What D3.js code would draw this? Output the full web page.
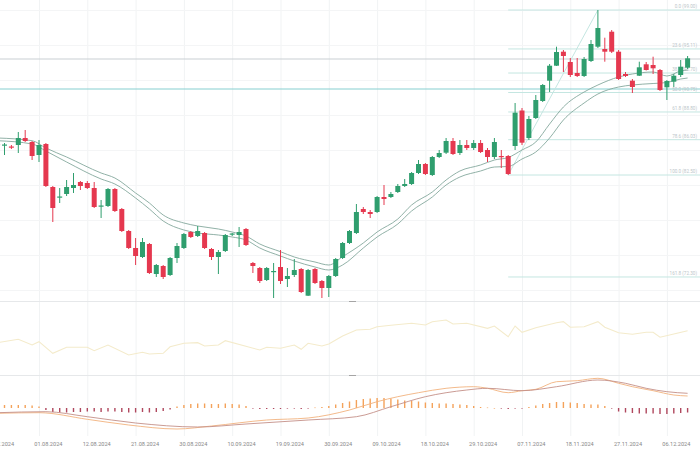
<!DOCTYPE html>
<html><head><meta charset="utf-8">
<script src="https://cdn.jsdelivr.net/npm/d3@7"></script>
<style>html,body{margin:0;padding:0;background:#fff;overflow:hidden}</style>
</head><body>
<svg id="c" width="700" height="450"></svg>
<script>
// ---------------- DATA ----------------
const startDate = "2024-07-23";
const candleCount = 101;
const opens = [85.6,85.45,85.35,85.5,86.2,85.8,84.5,85.6,81.3,80.25,
80.6,81.2,81.8,81.7,81.2,79.35,79.4,81.1,79.1,76.9,
75.2,74.3,75.6,72.6,73.4,72.5,74.2,75.2,76.8,76.4,
76.7,75.1,74.3,74.9,76.55,76.5,77.1,73.7,73.2,72.0,
72.85,73.3,72.1,72.5,73.1,70.43,73.1,71.9,71.2,72.4,
74.2,75.7,76.7,79.1,78.8,78.8,80.3,80.3,80.8,81.4,
81.6,82.7,83.6,82.5,84.3,84.73,85.9,84.7,85.5,85.2,
85.7,85.0,84.3,84.4,84.4,85.4,88.95,86.2,88.2,89.9,
91.93,93.43,94.83,93.8,92.7,92.4,93.9,95.33,95.1,96.83,
94.83,92.6,91.93,92.43,93.57,93.5,93.0,91.27,91.83,92.5,93.23];
const highs = [85.8,85.7,85.5,86.8,87.0,85.9,86.0,85.7,81.4,81.2,
82.0,82.7,81.9,81.9,81.8,80.0,81.2,81.2,79.2,77.0,
76.2,76.2,75.7,73.6,73.5,74.3,75.7,76.7,76.9,77.4,
76.8,75.2,75.0,76.6,76.7,77.3,77.2,73.8,73.3,73.3,
73.7,75.0,73.2,74.1,73.2,73.1,73.2,72.0,72.5,74.2,
75.8,77.0,79.6,79.3,79.0,80.4,81.5,80.8,81.6,82.1,
82.8,84.0,83.7,84.4,85.0,86.2,86.2,86.0,86.0,86.0,
86.0,85.2,86.2,85.0,84.5,89.7,89.2,88.4,90.5,91.6,
93.6,95.33,95.0,94.2,94.2,94.3,96.0,99.0,96.23,97.0,
95.0,92.8,92.1,93.83,93.8,94.33,93.1,92.0,92.6,94.0,94.4];
const lows = [85.3,84.5,85.1,84.7,85.8,84.0,83.8,81.3,77.8,79.7,
80.4,80.7,81.0,81.1,79.2,78.2,79.3,78.8,76.8,75.1,
73.5,74.2,72.6,72.3,72.1,72.4,73.7,75.1,76.2,76.3,
75.1,74.0,72.6,74.8,76.4,75.3,75.4,72.7,71.7,71.9,
70.2,71.6,71.3,72.3,70.7,70.4,71.6,70.2,70.3,72.3,
74.1,75.6,76.6,78.6,78.2,78.7,79.5,80.2,80.7,81.3,
81.5,82.6,82.5,82.4,84.2,84.6,84.5,84.5,85.0,85.0,
84.7,83.8,84.1,83.2,82.5,85.0,85.5,86.0,88.1,89.8,
90.8,93.4,92.8,92.3,92.3,92.3,93.8,95.2,93.83,94.7,
92.0,92.3,90.7,92.4,92.95,92.6,90.9,90.0,91.3,92.3,93.1];
const closes = [85.5,85.55,85.25,86.2,85.9,84.4,85.5,81.4,79.2,80.35,
81.3,81.5,81.4,81.2,79.3,79.45,81.1,78.9,76.9,75.2,
74.4,75.8,72.7,73.5,72.3,74.2,75.4,76.6,76.3,76.9,
75.2,74.3,74.8,76.5,76.65,76.8,75.5,73.4,71.9,73.2,
72.9,71.9,72.4,73.0,70.8,73.0,71.7,71.2,72.4,74.1,
75.7,76.9,78.8,78.8,78.6,80.3,80.1,80.6,81.4,81.6,
82.7,83.6,82.6,84.3,84.7,85.9,84.6,85.5,85.2,85.7,
84.8,84.3,85.8,84.3,82.6,88.73,85.73,88.1,90.0,91.5,
93.43,94.8,94.4,92.5,92.4,94.1,95.6,97.2,94.83,94.83,
92.1,92.4,91.3,93.27,93.0,93.17,91.0,91.9,92.43,93.33,94.17];

// moving-average band (read at selected candles)
const maIdx   = [0,5,7,10,15,17,20,22,24,27,29,32,34,36,38,41,43,46,48,50,53,55,58,60,63,65,67,70,72,74,76,78,80,82,85,87,90,92,95,97,99,100];
const maUpper = [86.2,85.93,85.2,84.3,82.7,82.2,80.7,79.7,78.5,77.7,77.4,77.1,76.8,76.4,75.6,74.83,74.3,73.8,73.5,74.33,75.7,76.8,78.1,79.5,80.8,82.0,82.9,83.5,84.0,84.25,85.0,85.8,87.6,89.3,90.8,91.5,92.3,92.6,92.8,92.4,92.9,93.0];
const maLower = [85.93,85.6,84.9,83.8,82.1,81.6,80.2,79.1,77.9,77.0,76.7,76.5,76.3,76.0,75.2,74.4,73.9,73.3,73.0,73.5,75.2,76.3,77.6,78.9,80.3,81.5,82.3,82.9,83.3,83.35,84.1,84.8,86.2,88.0,89.7,90.6,91.3,91.5,91.65,91.75,92.1,92.2];

// Fibonacci retracement (anchored low -> high)
const fibLevels = [0, 23.6, 38.2, 50, 61.8, 78.6, 100, 161.8];
const fibLowIdx = 74, fibHighIdx = 87;
const hLines = [94.1, 91.1];

// RSI (read at selected candles)
const rsiIdx = [0,3,5,6,8,10,13,14,16,19,21,22,24,25,27,29,30,32,33,38,39,41,43,44,45,47,48,50,52,54,55,57,60,62,63,65,66,68,71,72,74,75,76,78,81,82,83,85,87,88,90,92,94,95,96,98,100];
const rsiVal = [41.9,46.7,38.6,43.3,26.7,35.3,35.3,30.4,38.6,24.3,28.1,25.7,26.7,36.1,41,41.9,37.1,38.6,44.7,31.4,35.3,33.9,38.6,32.4,41,37.1,40,51.4,60,61,64.7,66.7,69.6,67.1,71.9,74.3,68.6,69.6,62.4,65.7,50.4,65.7,56.7,63.3,70.4,71.9,63.9,64.7,71.9,63.9,56.1,53.9,56.7,56.7,49.6,54.3,59];

// MACD lines (read at selected candles) and histogram (every candle)
const macdIdx = [0,6,13,19,26,31,39,45,51,55,58,61,65,69,71,74,76,78,81,84,87,90,92,95,98,100];
const macdVal = [-0.53,-0.47,-1.13,-1.7,-2.1,-1.8,-1.2,-1.0,-0.2,0.63,1.13,1.53,1.97,2.13,1.97,1.53,1.73,1.87,2.63,2.73,2.97,2.47,2.13,1.73,1.3,1.2];
const signalIdx = [0,7,13,20,29,36,45,52,57,62,68,71,76,81,87,91,94,97,100];
const signalVal = [-0.47,-0.37,-0.87,-1.5,-1.9,-1.6,-1.2,-0.87,0.13,1.13,1.8,1.97,1.73,2.13,2.8,2.47,1.97,1.63,1.47];
const hist = [0.3,0.3,0.3,0.3,0.3,0.25,0.15,-0.2,-0.4,-0.45,
-0.45,-0.4,-0.4,-0.35,-0.35,-0.4,-0.35,-0.35,-0.4,-0.45,
-0.45,-0.4,-0.45,-0.4,-0.3,-0.15,0.15,0.3,0.4,0.45,
0.45,0.4,0.4,0.45,0.4,0.35,0.2,-0.05,-0.1,-0.1,
-0.1,-0.1,-0.05,-0.05,-0.1,-0.05,0.05,0.1,0.2,0.35,
0.5,0.65,0.8,0.9,0.95,1.0,1.0,0.95,0.85,0.75,
0.7,0.65,0.55,0.5,0.45,0.45,0.4,0.35,0.3,0.2,
0.1,0.05,0.0,-0.05,-0.1,-0.05,-0.05,0.1,0.25,0.4,
0.5,0.6,0.6,0.55,0.5,0.4,0.35,0.35,0.2,-0.05,
-0.35,-0.45,-0.5,-0.55,-0.55,-0.55,-0.6,-0.6,-0.55,-0.5,-0.45];

const tickLabels = ["23.07.2024","01.08.2024","12.08.2024","21.08.2024","30.08.2024","10.09.2024","19.09.2024","30.09.2024","09.10.2024","18.10.2024","29.10.2024","07.11.2024","18.11.2024","27.11.2024","06.12.2024"];

// ---------------- CHART ----------------
const fmt = d3.timeFormat("%d.%m.%Y");
const dates = [];
for (let d = new Date(startDate + "T12:00:00"); dates.length < candleCount; d = d3.timeDay.offset(d, 1)) {
  if (d.getDay() !== 0 && d.getDay() !== 6) dates.push(new Date(d));
}
const dateStr = dates.map(fmt);

const svg = d3.select("#c");
const W = 700;
const x = d3.scaleLinear().domain([0, 100]).range([-2.4, 687.6]);
const y = d3.scaleLinear().domain([70, 100]).range([300, 0]);
const yR = d3.scaleLinear().domain([0, 100]).range([372, 302]);
const yM = d3.scaleLinear().domain([-2.1, 3]).range([429, 378]);

const green = "#2f9e6e", red = "#e5384f";

// grids
const gridG = svg.append("g");
const tickIdx = tickLabels.map(t => dateStr.indexOf(t));
const gridIdx = tickIdx.map(i => i - 1);
gridG.selectAll("line.v").data(gridIdx).join("line")
  .attr("x1", d => x(d) + 0.5).attr("x2", d => x(d) + 0.5)
  .attr("y1", 0).attr("y2", 436)
  .attr("stroke", "#f1f3f4").attr("stroke-width", 1);
const hGrid = [71, 74.5, 78, 81.5, 85, 88.5, 92, 95.5, 99];
gridG.selectAll("line.h").data(hGrid).join("line")
  .attr("x1", 0).attr("x2", W)
  .attr("y1", d => Math.round(y(d)) + 0.5).attr("y2", d => Math.round(y(d)) + 0.5)
  .attr("stroke", "#f4f5f6");

// panel separators
[301, 375].forEach(v => {
  svg.append("line").attr("x1", 0).attr("x2", W).attr("y1", v + 0.5).attr("y2", v + 0.5)
    .attr("stroke", "#e6e8ea");
  svg.append("line").attr("x1", 349).attr("x2", 356).attr("y1", v + 0.5).attr("y2", v + 0.5)
    .attr("stroke", "#a5a5a5");
});

// horizontal lines
svg.append("line").attr("x1", 0).attr("x2", W)
  .attr("y1", y(hLines[0])).attr("y2", y(hLines[0])).attr("stroke", "#c9cfd3").attr("stroke-width", 1);
svg.append("line").attr("x1", 0).attr("x2", W)
  .attr("y1", y(hLines[1])).attr("y2", y(hLines[1])).attr("stroke", "#86cfd0").attr("stroke-width", 1);

// Fibonacci
const fHi = highs[fibHighIdx], fLo = lows[fibLowIdx];
const fibG = svg.append("g");
fibLevels.forEach(l => {
  const p = fHi - (fHi - fLo) * l / 100;
  fibG.append("line").attr("x1", x(fibLowIdx)).attr("x2", W)
    .attr("y1", y(p)).attr("y2", y(p)).attr("stroke", "#c4e6e1").attr("stroke-width", 1);
  fibG.append("text").attr("x", 697).attr("y", y(p) - 2)
    .attr("text-anchor", "end").attr("font-size", 4.6).attr("fill", "#bcc6c9")
    .attr("font-family", "Roboto, sans-serif")
    .text(l.toFixed(1) + " (" + p.toFixed(2) + ")");
});
fibG.append("line").attr("x1", x(fibLowIdx)).attr("y1", y(fLo))
  .attr("x2", x(fibHighIdx)).attr("y2", y(fHi)).attr("stroke", "#c4e6e1");

// MA band
const maLine = (vals) => d3.line().x((d, i) => x(maIdx[i])).y(d => y(d)).curve(d3.curveMonotoneX)(vals);
svg.append("path").attr("d", maLine(maUpper)).attr("fill", "none").attr("stroke", "#84a89d").attr("stroke-width", 0.9);
svg.append("path").attr("d", maLine(maLower)).attr("fill", "none").attr("stroke", "#84a89d").attr("stroke-width", 0.9);

// candles
const cg = svg.append("g");
d3.range(candleCount).forEach(i => {
  const up = closes[i] >= opens[i];
  const col = up ? green : red;
  const cx = x(i);
  cg.append("line").attr("x1", cx).attr("x2", cx)
    .attr("y1", y(highs[i])).attr("y2", y(lows[i])).attr("stroke", col).attr("stroke-width", 1);
  const top = y(Math.max(opens[i], closes[i])), bot = y(Math.min(opens[i], closes[i]));
  cg.append("rect").attr("x", cx - 2.5).attr("width", 5)
    .attr("y", top).attr("height", Math.max(1.2, bot - top)).attr("fill", col);
});

// RSI
svg.append("path")
  .attr("d", d3.line().x((d, i) => x(rsiIdx[i])).y(d => yR(d))(rsiVal))
  .attr("fill", "none").attr("stroke", "#f4ebcb").attr("stroke-width", 1.1);

// MACD histogram
svg.append("g").selectAll("rect").data(hist).join("rect")
  .attr("x", (d, i) => x(i) - 0.7).attr("width", 1.4)
  .attr("y", d => Math.min(yM(d), yM(0)))
  .attr("height", d => Math.max(0.6, Math.abs(yM(d) - yM(0))))
  .attr("fill", d => d >= 0 ? "#f4a25a" : "#b0485e");

// MACD lines
svg.append("path")
  .attr("d", d3.line().x((d, i) => x(macdIdx[i])).y(d => yM(d)).curve(d3.curveMonotoneX)(macdVal))
  .attr("fill", "none").attr("stroke", "#f2b27e").attr("stroke-width", 0.9);
svg.append("path")
  .attr("d", d3.line().x((d, i) => x(signalIdx[i])).y(d => yM(d)).curve(d3.curveMonotoneX)(signalVal))
  .attr("fill", "none").attr("stroke", "#c49088").attr("stroke-width", 0.9);

// x labels
svg.append("g").selectAll("text").data(tickLabels).join("text")
  .attr("x", (d, i) => x(tickIdx[i]) + 2.5)
  .attr("y", 446)
  .attr("text-anchor", "middle")
  .attr("font-size", 5.6)
  .attr("font-family", "Roboto, sans-serif")
  .attr("fill", "#888888")
  .text(d => d);
</script>
</body></html>
